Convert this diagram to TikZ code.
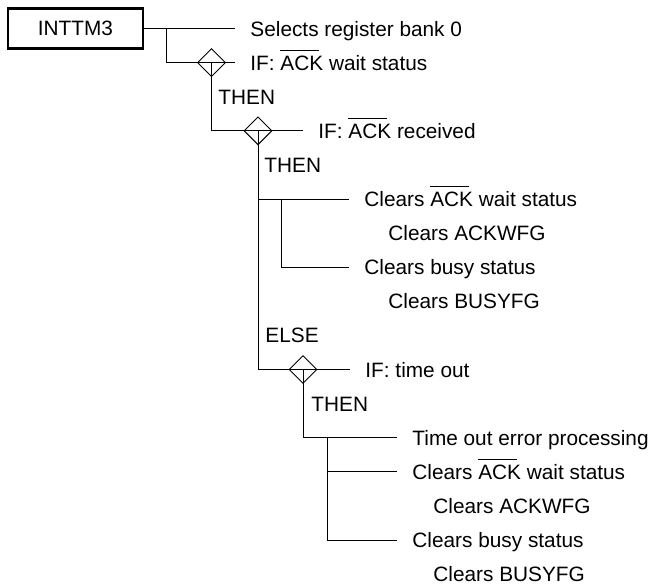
\documentclass[tikz,border=0pt]{standalone}
\usepackage{fontspec}
\setmainfont{Liberation Sans}
\usetikzlibrary{shapes.geometric, positioning}

% ACK with a bar over it
\newcommand{\ackbar}{\setbox0\hbox{ACK}\rlap{\rule[19.5pt]{\dimexpr\wd0-4pt\relax}{0.9pt}}\box0}

\begin{document}
\begin{tikzpicture}[x=1pt, y=-1pt, line width=0.9pt,
  every node/.style={font=\fontsize{20.8}{25}\selectfont},
  title/.style={draw, line width=2.5pt, minimum width=135pt, minimum height=40pt, inner sep=0pt},
  item/.style={anchor=west, inner xsep=15pt, inner ysep=0pt, text height=15pt, text depth=0pt},
  note/.style={anchor=west, inner sep=0pt, text height=15pt, text depth=0pt},
  branch/.style={draw, diamond, minimum width=28pt, minimum height=28pt, inner sep=0pt}]

  \useasboundingbox (0,0) rectangle (655,587);

  \node[title] (inttm) at (75.5,28.5) {INTTM3};
  \node[item]  (bank)  at (235,28.5)  {Selects register bank 0};
  \coordinate  (j1)    at (166,28.5);

  \node[branch] (d1)     at (211.5,62.6) {};
  \node[item]   (ifwait) at (235,62.6)   {IF: \ackbar{} wait status};
  \node[note]   (then1)  at (218,96.7)   {THEN};

  \node[branch] (d2)     at (258,130.8) {};
  \node[item]   (ifrecv) at (303,130.8) {IF: \ackbar{} received};
  \node[note]   (then2)  at (264,164.9) {THEN};

  \node[item] (clrwait1) at (349,199)   {Clears \ackbar{} wait status};
  \node[note] (ackwfg1)  at (388,233.1) {Clears ACKWFG};
  \coordinate (j2)       at (281,199);
  \node[item] (clrbusy1) at (349,267.2) {Clears busy status};
  \node[note] (busyfg1)  at (388,301.3) {Clears BUSYFG};
  \node[note] (else)     at (265,335.4) {ELSE};

  \node[branch] (d3)     at (303,369.5) {};
  \node[item]   (iftime) at (350,369.5) {IF: time out};
  \node[note]   (then3)  at (311,403.6) {THEN};

  \node[item] (tmoerr)   at (397,437.7) {Time out error processing};
  \coordinate (j3)       at (327,437.7);
  \node[item] (clrwait2) at (397,471.8) {Clears \ackbar{} wait status};
  \node[note] (ackwfg2)  at (433,505.9) {Clears ACKWFG};
  \node[item] (clrbusy2) at (397,540)   {Clears busy status};
  \node[note] (busyfg2)  at (433,574.1) {Clears BUSYFG};

  \draw (inttm) -- (bank);
  \draw (j1) |- (ifwait.west);
  \draw (d1.center) |- (ifrecv.west);
  \draw (d2.center) |- (iftime.west);
  \draw (d2.center |- clrwait1) -- (clrwait1.west);
  \draw (j2) |- (clrbusy1.west);
  \draw (d3.center) |- (tmoerr.west);
  \draw (j3 |- clrwait2) -- (clrwait2.west);
  \draw (j3) |- (clrbusy2.west);
\end{tikzpicture}
\end{document}
